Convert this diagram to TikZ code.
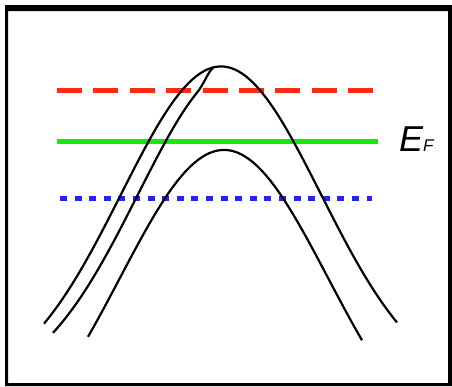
\documentclass[tikz,border=0pt]{standalone}
\usepackage{fontspec}
\setmainfont{Liberation Sans}
\definecolor{lred}{RGB}{255,42,20}
\definecolor{lgreen}{RGB}{25,232,15}
\definecolor{lblue}{RGB}{35,35,245}
\begin{document}
\begin{tikzpicture}[x=1pt,y=-1pt,
  curve/.style={line width=2.2pt,black,line join=round},
  level/.style={line cap=butt},
]
\useasboundingbox (0,0) rectangle (452,386);
% frame
\fill[black,even odd rule] (5,5) rectangle (452,386) (8,11) rectangle (448,383);
% levels
\draw[level,lred,line width=5pt,dash pattern=on 25pt off 11.4pt] (57,90) -- (377,90);
\draw[level,lgreen,line width=4.5pt] (57,141.7) -- (378,141.7);
\draw[level,lblue,line width=5pt,dash pattern=on 7pt off 7.6pt] (60,198) -- (372,198);
% bands
\draw[curve] plot[domain=44:397,samples=140] (\x,{66.5+325*(1-exp(-0.5*((\x-221)/100)*((\x-221)/100)))});
\draw[curve] plot[domain=36:180,samples=80] ({\x+17},{66.5+325*(1-exp(-0.5*((\x-221)/100)*((\x-221)/100)))})
  .. controls (204,84) and (208,72) .. (213,67.8);
\draw[curve] plot[domain=88:362,samples=120] (\x,{150+325*(1-exp(-0.5*((\x-224)/104)*((\x-224)/104)))});
% label
\node[anchor=base west,inner sep=0pt] (ef) at (399,151)
  {\fontsize{36}{36}\selectfont\itshape E\fontsize{17}{17}\selectfont F};
\end{tikzpicture}
\end{document}
